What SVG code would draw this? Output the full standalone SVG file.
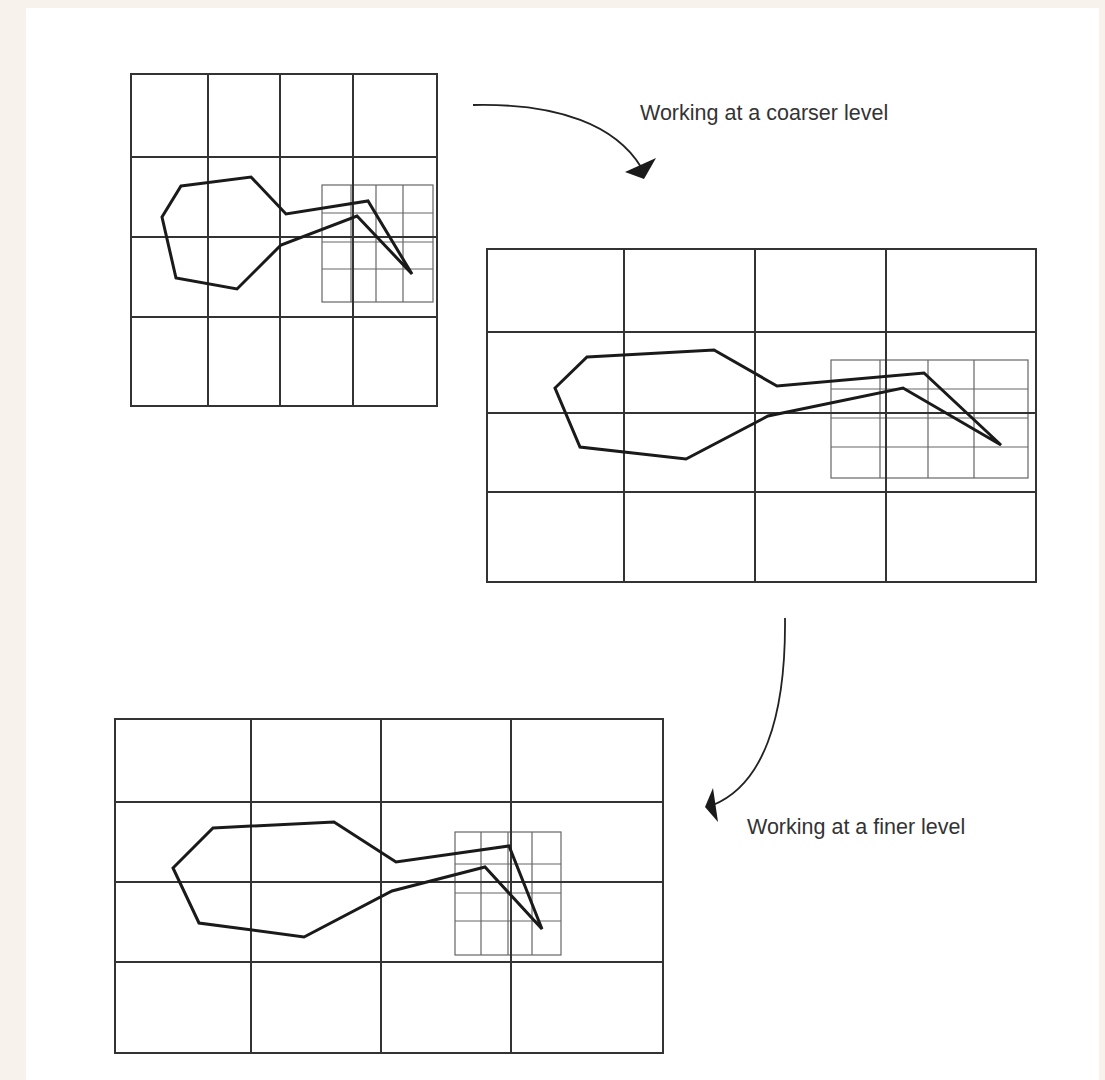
<svg xmlns="http://www.w3.org/2000/svg" width="1105" height="1080" viewBox="0 0 1105 1080">
<style>
.main{fill:none;stroke:#333;stroke-width:2}
.fine{fill:none;stroke:#666;stroke-width:1.2}
.shape{fill:none;stroke:#1a1a1a;stroke-width:3;stroke-linejoin:miter}
.conn{fill:none;stroke:#222;stroke-width:1.8}
.head{fill:#1a1a1a}
.lbl{font-family:"Liberation Sans",Arial,sans-serif;font-size:21.5px;fill:#333}
</style>
<rect x="0" y="0" width="1105" height="1080" fill="#f7f2ec"/>
<rect x="26" y="8" width="1073" height="1072" fill="#ffffff"/>

<g id="grid-coarse">
  <g class="fine">
    <rect x="322" y="185" width="111" height="117"/>
    <path d="M351,185V302M376,185V302M403,185V302M322,213H433M322,242H433M322,269H433"/>
  </g>
  <g class="main">
    <rect x="131" y="74" width="306" height="332"/>
    <path d="M208,74V406M280,74V406M353,74V406M131,157H437M131,237H437M131,317H437"/>
  </g>
  <polygon class="shape" points="181,186 251,177 286,214 368,201 412,274 357,216 281,245 237,289 176,278 162,217"/>
</g>

<g id="grid-middle">
  <g class="fine">
    <rect x="831" y="360" width="197" height="118"/>
    <path d="M880,360V478M928,360V478M974,360V478M831,389H1028M831,418H1028M831,447H1028"/>
  </g>
  <g class="main">
    <rect x="487" y="249" width="549" height="333"/>
    <path d="M624,249V582M755,249V582M886,249V582M487,332H1036M487,413H1036M487,492H1036"/>
  </g>
  <polygon class="shape" points="587,357 714,350 777,386 924,373 1001,445 903,388 768,416 686,459 580,447 555,388"/>
</g>

<g id="grid-fine">
  <g class="fine">
    <rect x="455" y="832" width="106" height="123"/>
    <path d="M481,832V955M508,832V955M532,832V955M455,864H561M455,893H561M455,921H561"/>
  </g>
  <g class="main">
    <rect x="115" y="719" width="548" height="334"/>
    <path d="M251,719V1053M381,719V1053M511,719V1053M115,802H663M115,882H663M115,962H663"/>
  </g>
  <polygon class="shape" points="213,828 334,822 396,862 509,846 542,929 485,867 392,891 304,937 199,923 173,868"/>
</g>

<g id="connectors">
  <path class="conn" d="M473,105 C560,103 616,126 641,167"/>
  <polygon class="head" points="625,172 656,158 644,179"/>
  <path class="conn" d="M785,618 C786,720 762,785 713,805"/>
  <polygon class="head" points="705,807 713,788 718,822"/>
</g>

<g id="labels">
  <text class="lbl" x="640" y="120">Working at a coarser level</text>
  <text class="lbl" x="747" y="834">Working at a finer level</text>
</g>
</svg>
